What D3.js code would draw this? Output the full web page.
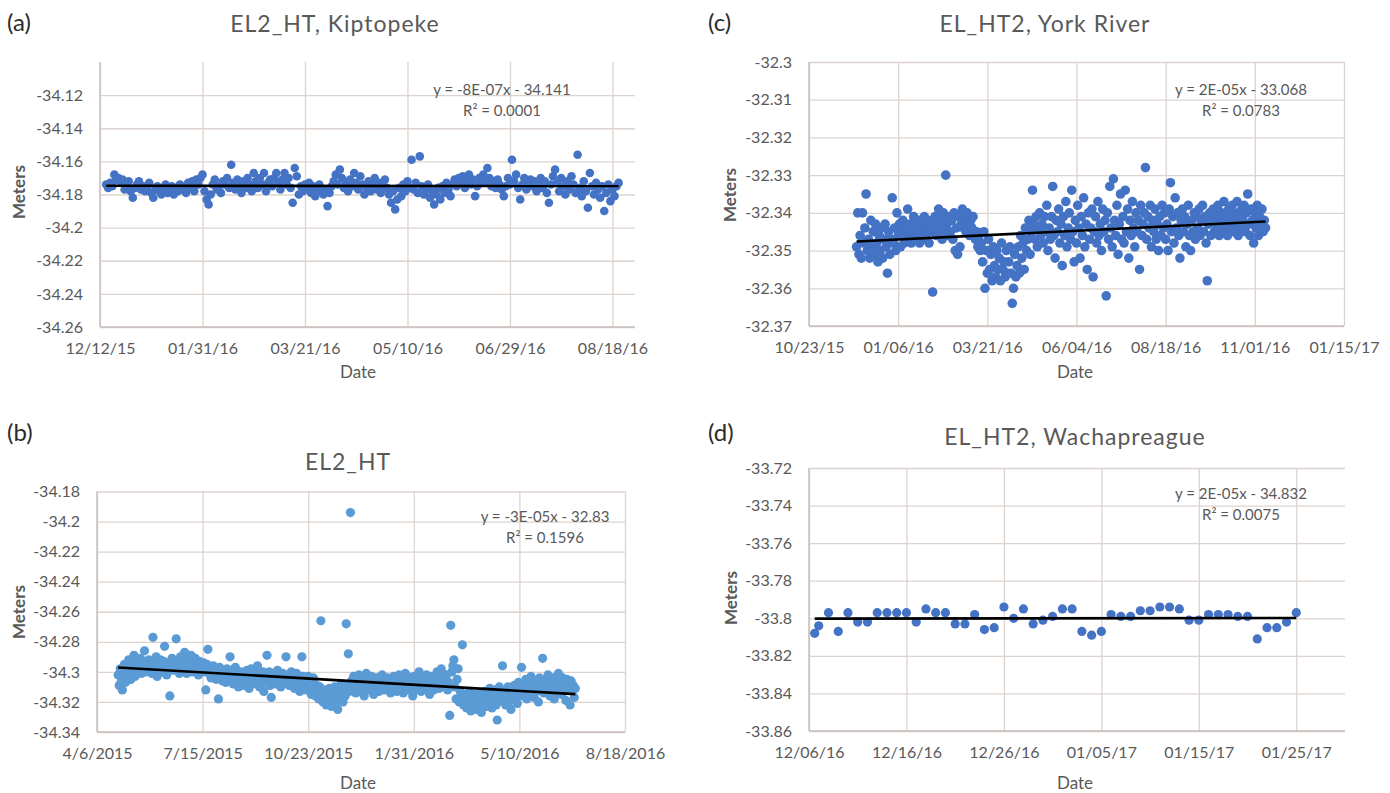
<!DOCTYPE html>
<html>
<head>
<meta charset="utf-8">
<script src="https://cdn.jsdelivr.net/npm/d3@7"></script>
<style>
  body { margin: 0; background: #fff; }
  svg { display: block; }
  text { font-family: Lato, "Open Sans", "Liberation Sans", sans-serif; }
</style>
</head>
<body>
<svg id="fig" width="1390" height="793"></svg>
<script>
// ---------- (a) EL2_HT, Kiptopeke : daily water level (m), from 2015-12-15 ----------
const kiptopekeStart = "2015-12-15";
const kiptopekeValues = [
  -34.174,-34.176,-34.173,-34.175,-34.168,-34.171,-34.170,-34.172,-34.171,-34.177,
  -34.175,-34.172,-34.178,-34.182,-34.176,-34.174,-34.172,-34.177,-34.175,-34.178,
  -34.176,-34.173,-34.179,-34.182,-34.177,-34.175,-34.178,-34.180,-34.176,-34.174,
  -34.179,-34.177,-34.175,-34.180,-34.176,-34.178,-34.174,-34.177,-34.175,-34.179,
  -34.173,-34.176,-34.172,-34.178,-34.171,-34.174,-34.170,-34.168,-34.178,-34.183,
  -34.186,-34.180,-34.174,-34.171,-34.177,-34.175,-34.179,-34.172,-34.174,-34.170,
  -34.176,-34.162,-34.173,-34.177,-34.171,-34.175,-34.179,-34.172,-34.176,-34.170,
  -34.174,-34.178,-34.167,-34.172,-34.176,-34.170,-34.174,-34.167,-34.178,-34.173,
  -34.171,-34.175,-34.170,-34.167,-34.173,-34.177,-34.171,-34.167,-34.174,-34.170,
  -34.176,-34.185,-34.164,-34.169,-34.180,-34.175,-34.178,-34.174,-34.177,-34.173,
  -34.179,-34.175,-34.181,-34.176,-34.174,-34.178,-34.180,-34.177,-34.187,-34.179,
  -34.175,-34.172,-34.168,-34.174,-34.165,-34.170,-34.176,-34.173,-34.178,-34.171,
  -34.175,-34.167,-34.173,-34.177,-34.169,-34.174,-34.180,-34.176,-34.172,-34.178,
  -34.174,-34.170,-34.177,-34.173,-34.179,-34.175,-34.171,-34.176,-34.180,-34.185,
  -34.178,-34.189,-34.183,-34.176,-34.181,-34.174,-34.178,-34.172,-34.176,-34.159,
  -34.177,-34.173,-34.179,-34.157,-34.175,-34.180,-34.177,-34.174,-34.182,-34.178,
  -34.186,-34.180,-34.176,-34.183,-34.175,-34.179,-34.173,-34.177,-34.181,-34.174,
  -34.171,-34.175,-34.170,-34.173,-34.169,-34.176,-34.172,-34.168,-34.174,-34.171,
  -34.181,-34.175,-34.170,-34.173,-34.168,-34.172,-34.164,-34.170,-34.175,-34.172,
  -34.176,-34.171,-34.174,-34.177,-34.181,-34.175,-34.170,-34.174,-34.159,-34.172,
  -34.168,-34.176,-34.183,-34.174,-34.170,-34.177,-34.173,-34.171,-34.175,-34.172,
  -34.178,-34.174,-34.170,-34.176,-34.172,-34.179,-34.185,-34.174,-34.169,-34.165,
  -34.173,-34.178,-34.170,-34.175,-34.180,-34.172,-34.177,-34.169,-34.174,-34.179,
  -34.156,-34.176,-34.181,-34.172,-34.178,-34.188,-34.167,-34.175,-34.180,-34.173,
  -34.177,-34.182,-34.175,-34.190,-34.179,-34.174,-34.184,-34.177,-34.181,-34.175,
  -34.173
];
const kiptopekeXTicks = ["2015-12-12","2016-01-31","2016-03-21","2016-05-10","2016-06-29","2016-08-18"];
const kiptopekeYTicks = [-34.12,-34.14,-34.16,-34.18,-34.2,-34.22,-34.24,-34.26];

// ---------- (b) EL2_HT : daily water level (m), from 2015-04-26 ----------
const el2Start = "2015-04-26";
const el2Values = [
  -34.302,-34.309,-34.298,-34.306,-34.312,-34.300,-34.295,-34.307,-34.303,-34.297,-34.292,-34.301,-34.305,-34.296,-34.299,-34.289,-34.303,-34.297,-34.294,-34.300,
  -34.296,-34.291,-34.301,-34.298,-34.293,-34.286,-34.300,-34.295,-34.299,-34.292,-34.297,-34.294,-34.301,-34.277,-34.296,-34.299,-34.290,-34.303,-34.295,-34.298,
  -34.292,-34.300,-34.296,-34.293,-34.283,-34.298,-34.302,-34.294,-34.297,-34.316,-34.295,-34.291,-34.299,-34.296,-34.293,-34.278,-34.298,-34.294,-34.301,-34.290,
  -34.297,-34.293,-34.299,-34.287,-34.295,-34.301,-34.292,-34.298,-34.296,-34.289,-34.300,-34.294,-34.297,-34.291,-34.299,-34.295,-34.302,-34.293,-34.298,-34.296,
  -34.300,-34.294,-34.297,-34.312,-34.295,-34.285,-34.301,-34.297,-34.304,-34.299,-34.296,-34.302,-34.298,-34.305,-34.300,-34.318,-34.297,-34.303,-34.299,-34.306,
  -34.304,-34.301,-34.307,-34.298,-34.303,-34.299,-34.290,-34.305,-34.301,-34.308,-34.303,-34.297,-34.306,-34.302,-34.310,-34.304,-34.300,-34.307,-34.303,-34.309,
  -34.301,-34.306,-34.299,-34.304,-34.311,-34.303,-34.298,-34.307,-34.302,-34.305,-34.300,-34.308,-34.296,-34.304,-34.310,-34.302,-34.306,-34.300,-34.313,-34.303,
  -34.307,-34.289,-34.304,-34.300,-34.309,-34.317,-34.303,-34.306,-34.301,-34.308,-34.304,-34.299,-34.306,-34.302,-34.310,-34.305,-34.301,-34.307,-34.303,-34.290,
  -34.306,-34.302,-34.309,-34.304,-34.300,-34.307,-34.303,-34.311,-34.305,-34.301,-34.308,-34.304,-34.313,-34.306,-34.290,-34.303,-34.309,-34.305,-34.312,-34.307,
  -34.303,-34.310,-34.306,-34.315,-34.308,-34.304,-34.311,-34.316,-34.309,-34.313,-34.318,-34.310,-34.266,-34.315,-34.320,-34.312,-34.317,-34.322,-34.314,-34.319,
  -34.311,-34.316,-34.323,-34.313,-34.318,-34.310,-34.321,-34.315,-34.325,-34.312,-34.317,-34.308,-34.314,-34.320,-34.311,-34.316,-34.268,-34.309,-34.288,-34.313,
  -34.194,-34.306,-34.311,-34.303,-34.309,-34.314,-34.305,-34.310,-34.302,-34.307,-34.313,-34.304,-34.309,-34.316,-34.306,-34.301,-34.310,-34.305,-34.312,-34.308,
  -34.303,-34.309,-34.315,-34.306,-34.311,-34.304,-34.308,-34.313,-34.305,-34.310,-34.302,-34.307,-34.312,-34.306,-34.309,-34.304,-34.311,-34.307,-34.314,-34.305,
  -34.309,-34.303,-34.310,-34.306,-34.313,-34.308,-34.302,-34.311,-34.305,-34.309,-34.314,-34.306,-34.301,-34.310,-34.307,-34.312,-34.304,-34.309,-34.306,-34.316,
  -34.303,-34.308,-34.312,-34.305,-34.310,-34.300,-34.307,-34.313,-34.304,-34.309,-34.306,-34.311,-34.302,-34.308,-34.305,-34.315,-34.303,-34.310,-34.306,-34.312,
  -34.304,-34.309,-34.300,-34.307,-34.311,-34.305,-34.298,-34.308,-34.303,-34.310,-34.306,-34.302,-34.312,-34.307,-34.329,-34.269,-34.300,-34.296,-34.292,-34.310,
  -34.318,-34.305,-34.298,-34.320,-34.313,-34.317,-34.282,-34.322,-34.315,-34.319,-34.324,-34.316,-34.321,-34.313,-34.326,-34.318,-34.322,-34.315,-34.320,-34.325,
  -34.317,-34.322,-34.314,-34.319,-34.327,-34.316,-34.321,-34.313,-34.318,-34.323,-34.315,-34.320,-34.311,-34.317,-34.324,-34.314,-34.319,-34.312,-34.322,-34.332,
  -34.316,-34.310,-34.319,-34.313,-34.296,-34.319,-34.313,-34.322,-34.316,-34.310,-34.320,-34.314,-34.325,-34.312,-34.318,-34.309,-34.316,-34.311,-34.321,-34.307,
  -34.314,-34.310,-34.297,-34.316,-34.308,-34.313,-34.305,-34.318,-34.310,-34.307,-34.315,-34.303,-34.312,-34.309,-34.317,-34.306,-34.313,-34.308,-34.320,-34.304,
  -34.311,-34.307,-34.291,-34.314,-34.309,-34.305,-34.313,-34.302,-34.310,-34.316,-34.307,-34.312,-34.304,-34.318,-34.309,-34.306,-34.314,-34.301,-34.311,-34.308,
  -34.315,-34.304,-34.310,-34.307,-34.319,-34.305,-34.312,-34.308,-34.322,-34.306,-34.313,-34.309,-34.317,-34.311
];
const el2XTicks = ["2015-04-06","2015-07-15","2015-10-23","2016-01-31","2016-05-10","2016-08-18"];
const el2YTicks = [-34.18,-34.2,-34.22,-34.24,-34.26,-34.28,-34.3,-34.32,-34.34];

// ---------- (c) EL_HT2, York River : daily water level (m), from 2015-12-02 ----------
const yorkStart = "2015-12-02";
const yorkValues = [
  -32.349,-32.340,-32.351,-32.346,-32.352,-32.340,-32.348,-32.344,-32.335,-32.350,-32.347,-32.352,-32.342,-32.349,-32.345,
  -32.351,-32.343,-32.348,-32.353,-32.346,-32.350,-32.344,-32.352,-32.347,-32.343,-32.349,-32.356,-32.345,-32.351,-32.347,
  -32.336,-32.348,-32.344,-32.350,-32.340,-32.346,-32.343,-32.349,-32.345,-32.342,-32.348,-32.344,-32.347,-32.339,-32.346,
  -32.343,-32.348,-32.345,-32.341,-32.347,-32.344,-32.346,-32.342,-32.348,-32.345,-32.343,-32.347,-32.341,-32.346,-32.344,
  -32.342,-32.348,-32.345,-32.343,-32.361,-32.344,-32.341,-32.346,-32.343,-32.339,-32.345,-32.342,-32.347,-32.340,-32.344,
  -32.330,-32.343,-32.346,-32.341,-32.345,-32.342,-32.347,-32.340,-32.350,-32.344,-32.351,-32.341,-32.349,-32.343,-32.339,
  -32.344,-32.341,-32.345,-32.340,-32.343,-32.346,-32.342,-32.344,-32.341,-32.345,-32.347,-32.345,-32.349,-32.346,-32.350,
  -32.348,-32.353,-32.345,-32.360,-32.350,-32.356,-32.347,-32.355,-32.351,-32.358,-32.349,-32.354,-32.357,-32.350,-32.355,
  -32.352,-32.358,-32.348,-32.355,-32.353,-32.357,-32.350,-32.356,-32.353,-32.349,-32.356,-32.364,-32.360,-32.351,-32.357,
  -32.354,-32.349,-32.356,-32.346,-32.352,-32.348,-32.355,-32.344,-32.350,-32.347,-32.342,-32.351,-32.345,-32.334,-32.343,
  -32.347,-32.341,-32.349,-32.344,-32.340,-32.346,-32.343,-32.348,-32.341,-32.345,-32.338,-32.350,-32.344,-32.347,-32.341,
  -32.333,-32.346,-32.352,-32.342,-32.345,-32.339,-32.348,-32.343,-32.354,-32.341,-32.346,-32.337,-32.349,-32.344,-32.340,
  -32.347,-32.334,-32.345,-32.353,-32.342,-32.348,-32.338,-32.344,-32.352,-32.341,-32.346,-32.336,-32.349,-32.343,-32.355,
  -32.340,-32.347,-32.344,-32.339,-32.357,-32.345,-32.341,-32.348,-32.337,-32.346,-32.343,-32.350,-32.339,-32.345,-32.342,
  -32.362,-32.340,-32.347,-32.333,-32.344,-32.349,-32.331,-32.342,-32.346,-32.338,-32.351,-32.343,-32.335,-32.347,-32.341,
  -32.348,-32.334,-32.345,-32.339,-32.352,-32.342,-32.346,-32.337,-32.344,-32.349,-32.340,-32.345,-32.342,-32.355,-32.338,
  -32.346,-32.343,-32.340,-32.328,-32.347,-32.341,-32.344,-32.338,-32.349,-32.342,-32.345,-32.339,-32.347,-32.343,-32.350,
  -32.341,-32.346,-32.338,-32.344,-32.340,-32.347,-32.343,-32.350,-32.339,-32.332,-32.345,-32.341,-32.348,-32.336,-32.344,
  -32.340,-32.346,-32.352,-32.342,-32.339,-32.345,-32.341,-32.349,-32.343,-32.338,-32.346,-32.350,-32.342,-32.345,-32.340,
  -32.347,-32.341,-32.344,-32.339,-32.346,-32.342,-32.338,-32.345,-32.341,-32.348,-32.358,-32.343,-32.340,-32.346,-32.342,
  -32.339,-32.345,-32.341,-32.344,-32.338,-32.346,-32.342,-32.340,-32.345,-32.337,-32.343,-32.341,-32.346,-32.339,-32.344,
  -32.342,-32.338,-32.345,-32.340,-32.343,-32.337,-32.346,-32.341,-32.344,-32.339,-32.342,-32.338,-32.345,-32.340,-32.335,
  -32.343,-32.346,-32.339,-32.342,-32.348,-32.340,-32.344,-32.338,-32.346,-32.341,-32.343,-32.339,-32.345,-32.342,-32.344
];
const yorkXTicks = ["2015-10-23","2016-01-06","2016-03-21","2016-06-04","2016-08-18","2016-11-01","2017-01-15"];
const yorkYTicks = [-32.3,-32.31,-32.32,-32.33,-32.34,-32.35,-32.36,-32.37];

// ---------- (d) EL_HT2, Wachapreague : water level (m) ----------
const wachaDates = [
  "2016-12-06T14:00Z","2016-12-07","2016-12-08","2016-12-09","2016-12-10","2016-12-11","2016-12-12","2016-12-13",
  "2016-12-14","2016-12-15","2016-12-16","2016-12-17","2016-12-18","2016-12-19","2016-12-20","2016-12-21",
  "2016-12-22","2016-12-23","2016-12-24","2016-12-25","2016-12-26","2016-12-27","2016-12-28","2016-12-29",
  "2016-12-30","2016-12-31","2017-01-01","2017-01-02","2017-01-03","2017-01-04","2017-01-05","2017-01-06",
  "2017-01-07","2017-01-08","2017-01-09","2017-01-10","2017-01-11","2017-01-12","2017-01-13","2017-01-14",
  "2017-01-15","2017-01-16","2017-01-17","2017-01-18","2017-01-19","2017-01-20","2017-01-21","2017-01-22",
  "2017-01-23","2017-01-24","2017-01-25"
];
const wachaValues = [
  -33.808,-33.804,-33.797,-33.807,-33.797,-33.802,-33.802,-33.797,
  -33.797,-33.797,-33.797,-33.802,-33.795,-33.797,-33.797,-33.803,
  -33.803,-33.798,-33.806,-33.805,-33.794,-33.800,-33.795,-33.803,
  -33.801,-33.799,-33.795,-33.795,-33.807,-33.809,-33.807,-33.798,
  -33.799,-33.799,-33.796,-33.796,-33.794,-33.794,-33.795,-33.801,
  -33.801,-33.798,-33.798,-33.798,-33.799,-33.799,-33.811,-33.805,
  -33.805,-33.802,-33.797
];
const wachaXTicks = ["2016-12-06","2016-12-16","2016-12-26","2017-01-05","2017-01-15","2017-01-25"];
const wachaYTicks = [-33.72,-33.74,-33.76,-33.78,-33.8,-33.82,-33.84,-33.86];

// ---------- layout and styling of the four panels ----------
const parse = d3.utcParse("%Y-%m-%d");
const DAY = 864e5;
const toSeries = (start, vals) => vals.map((v, i) => ({ date: new Date(parse(start).getTime() + i * DAY), value: v }));
const zipSeries = (dates, vals) => vals.map((v, i) => ({ date: d3.isoParse(dates[i]), value: v }));

const panels = [
  { tag: "(a)", title: "EL2_HT, Kiptopeke", data: toSeries(kiptopekeStart, kiptopekeValues),
    xTicks: kiptopekeXTicks, yTicks: kiptopekeYTicks, xFmt: "%m/%d/%y",
    xDomain: ["2015-12-12", "2016-08-29"], yDomain: [-34.26, -34.10],
    box: { left: 100, right: 635, top: 62, bottom: 327 }, color: "#4472c4", r: 4.3,
    eq: "y = -8E-07x - 34.141", r2: "R\u00b2 = 0.0001", eqX: 502, eqY: 95,
    tagPos: [7, 31], titleX: 335, titleY: 32, yLabX: 19, yLabY: 192, xLabX: 358, xLabY: 378 },
  { tag: "(b)", title: "EL2_HT", data: toSeries(el2Start, el2Values),
    xTicks: el2XTicks, yTicks: el2YTicks, xFmt: "%-m/%-d/%Y",
    xDomain: ["2015-04-06", "2016-08-18"], yDomain: [-34.34, -34.18],
    box: { left: 97, right: 625, top: 491.5, bottom: 732 }, color: "#5b9bd5", r: 4.6,
    eq: "y = -3E-05x - 32.83", r2: "R\u00b2 = 0.1596", eqX: 545, eqY: 522,
    tagPos: [7, 441], titleX: 348, titleY: 470, yLabX: 19, yLabY: 612, xLabX: 358, xLabY: 789 },
  { tag: "(c)", title: "EL_HT2, York River", data: toSeries(yorkStart, yorkValues),
    xTicks: yorkXTicks, yTicks: yorkYTicks, xFmt: "%m/%d/%y",
    xDomain: ["2015-10-23", "2017-01-15"], yDomain: [-32.37, -32.30],
    box: { left: 809, right: 1344, top: 62, bottom: 326 }, color: "#4472c4", r: 4.8,
    eq: "y = 2E-05x - 33.068", r2: "R\u00b2 = 0.0783", eqX: 1241, eqY: 95,
    tagPos: [708, 31], titleX: 1045, titleY: 32, yLabX: 730, yLabY: 195, xLabX: 1075, xLabY: 378 },
  { tag: "(d)", title: "EL_HT2, Wachapreague", data: zipSeries(wachaDates, wachaValues),
    xTicks: wachaXTicks, yTicks: wachaYTicks, xFmt: "%m/%d/%y",
    xDomain: ["2016-12-06", "2017-01-30"], yDomain: [-33.86, -33.72],
    box: { left: 809, right: 1345, top: 468, bottom: 731 }, color: "#4472c4", r: 4.6,
    eq: "y = 2E-05x - 34.832", r2: "R\u00b2 = 0.0075", eqX: 1241, eqY: 499,
    tagPos: [708, 441], titleX: 1075, titleY: 445, yLabX: 731, yLabY: 598, xLabX: 1075, xLabY: 789 }
];

const TEXT = "#595959", GRID = "#dcd3cf", AXIS = "#c9c0bc";
const svg = d3.select("#fig");

// least-squares line through a series (dates in days)
function linearFit(data) {
  const xs = data.map(d => d.date.getTime() / DAY), ys = data.map(d => d.value);
  const mx = d3.mean(xs), my = d3.mean(ys);
  let sxy = 0, sxx = 0;
  xs.forEach((x, i) => { sxy += (x - mx) * (ys[i] - my); sxx += (x - mx) * (x - mx); });
  const slope = sxy / sxx;
  return x => my + slope * (x - mx);
}

panels.forEach(p => {
  const b = p.box;
  const x = d3.scaleUtc().domain(p.xDomain.map(parse)).range([b.left, b.right]);
  const y = d3.scaleLinear().domain(p.yDomain).range([b.bottom, b.top]);
  const g = svg.append("g");

  // horizontal gridlines + y tick labels
  const yAxis = d3.axisLeft(y).tickValues(p.yTicks).tickFormat(d => String(d))
    .tickSizeInner(-(b.right - b.left)).tickSizeOuter(0).tickPadding(17);
  const gy = g.append("g").attr("transform", `translate(${b.left},0)`).call(yAxis);
  gy.select(".domain").remove();
  gy.selectAll(".tick line").attr("stroke", GRID).attr("stroke-width", 1.3);
  gy.selectAll(".tick text").attr("fill", TEXT).attr("font-size", 16);

  // vertical gridlines + date tick labels
  const xAxis = d3.axisBottom(x).tickValues(p.xTicks.map(parse)).tickFormat(d3.utcFormat(p.xFmt))
    .tickSizeInner(-(b.bottom - b.top)).tickSizeOuter(0).tickPadding(16);
  const gx = g.append("g").attr("transform", `translate(0,${b.bottom})`).call(xAxis);
  gx.select(".domain").remove();
  gx.selectAll(".tick line").attr("stroke", GRID).attr("stroke-width", 1.3);
  gx.selectAll(".tick text").attr("fill", TEXT).attr("font-size", 16);

  // axis lines
  g.append("line").attr("x1", b.left).attr("x2", b.left).attr("y1", b.top).attr("y2", b.bottom)
    .attr("stroke", AXIS).attr("stroke-width", 1.5);
  g.append("line").attr("x1", b.left).attr("x2", b.right).attr("y1", b.bottom).attr("y2", b.bottom)
    .attr("stroke", AXIS).attr("stroke-width", 1.5);

  // observations
  g.append("g").selectAll("circle").data(p.data).join("circle")
    .attr("cx", d => x(d.date)).attr("cy", d => y(d.value)).attr("r", p.r)
    .attr("fill", p.color);

  // linear trend line
  const fit = linearFit(p.data);
  const ends = d3.extent(p.data, d => d.date);
  g.append("line")
    .attr("x1", x(ends[0])).attr("y1", y(fit(ends[0].getTime() / DAY)))
    .attr("x2", x(ends[1])).attr("y2", y(fit(ends[1].getTime() / DAY)))
    .attr("stroke", "#000").attr("stroke-width", 2.6);

  // trend equation
  g.append("text").attr("x", p.eqX).attr("y", p.eqY).attr("text-anchor", "middle")
    .attr("fill", TEXT).attr("font-size", 15).text(p.eq);
  g.append("text").attr("x", p.eqX).attr("y", p.eqY + 21).attr("text-anchor", "middle")
    .attr("fill", TEXT).attr("font-size", 15).text(p.r2);

  // titles and labels
  g.append("text").attr("x", p.tagPos[0]).attr("y", p.tagPos[1]).attr("fill", "#2b2b2b")
    .attr("font-size", 24).text(p.tag);
  g.append("text").attr("x", p.titleX).attr("y", p.titleY).attr("text-anchor", "middle")
    .attr("fill", TEXT).attr("font-size", 23).attr("letter-spacing", 1).text(p.title);
  g.append("text").attr("transform", `translate(${p.yLabX},${p.yLabY}) rotate(-90)`)
    .attr("text-anchor", "middle").attr("dy", "0.35em").attr("fill", TEXT)
    .attr("font-size", 17).attr("font-weight", 700).text("Meters");
  g.append("text").attr("x", p.xLabX).attr("y", p.xLabY).attr("text-anchor", "middle")
    .attr("fill", TEXT).attr("font-size", 17).text("Date");
});
</script>
</body>
</html>
